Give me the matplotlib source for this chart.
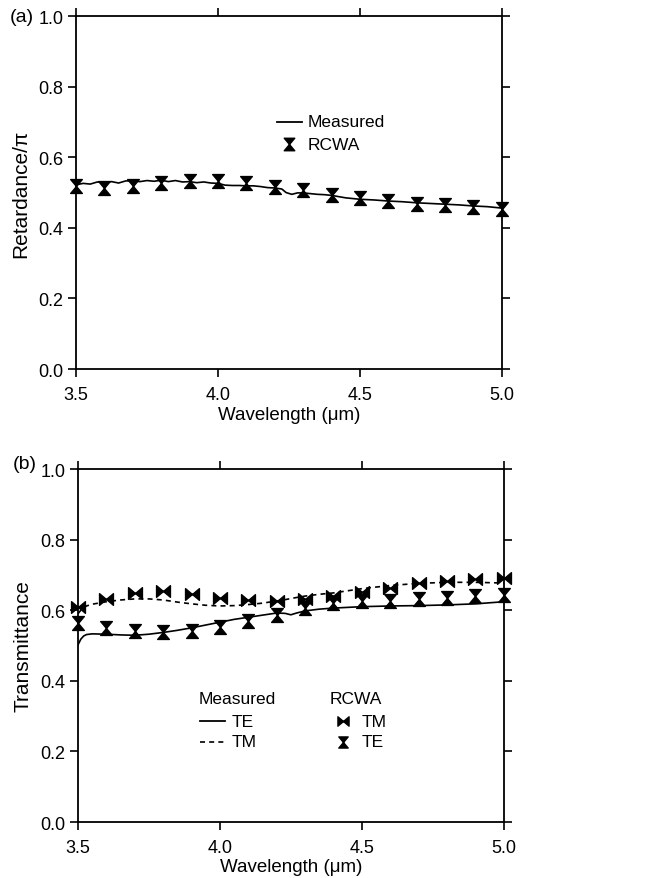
import numpy as np
import matplotlib
matplotlib.use('Agg')
from matplotlib import pyplot as plt
from matplotlib.path import Path

plt.rcParams['font.family'] = ['Liberation Sans', 'DejaVu Sans']

# ---- data, panel (a) ----
wl_meas_a = [3.500, 3.525, 3.550, 3.575, 3.600, 3.625, 3.650, 3.675, 3.700, 3.725,
             3.750, 3.775, 3.800, 3.825, 3.850, 3.875, 3.900, 3.925, 3.950, 3.975,
             4.000, 4.025, 4.050, 4.075, 4.100, 4.125, 4.150, 4.175, 4.200, 4.225,
             4.240, 4.260, 4.280, 4.300, 4.325, 4.350, 4.375, 4.400, 4.450, 4.500,
             4.550, 4.600, 4.650, 4.700, 4.750, 4.800, 4.850, 4.900, 4.950, 5.000]
ret_meas = [0.522, 0.526, 0.524, 0.530, 0.528, 0.531, 0.527, 0.533, 0.533, 0.531,
            0.534, 0.532, 0.535, 0.531, 0.534, 0.530, 0.531, 0.528, 0.530, 0.527,
            0.526, 0.521, 0.520, 0.520, 0.519, 0.519, 0.517, 0.514, 0.513, 0.510,
            0.500, 0.495, 0.499, 0.499, 0.497, 0.495, 0.494, 0.492, 0.485, 0.481,
            0.479, 0.476, 0.474, 0.471, 0.469, 0.467, 0.465, 0.462, 0.460, 0.456]

wl_rcwa = [3.5, 3.6, 3.7, 3.8, 3.9, 4.0, 4.1, 4.2, 4.3, 4.4, 4.5, 4.6, 4.7, 4.8, 4.9, 5.0]
ret_rcwa = [0.518, 0.512, 0.518, 0.527, 0.532, 0.532, 0.526, 0.517, 0.506, 0.493,
            0.485, 0.475, 0.468, 0.465, 0.459, 0.454]

# ---- data, panel (b) ----
wl_meas_b = [3.50, 3.51, 3.52, 3.53, 3.55, 3.60, 3.65, 3.70, 3.75, 3.80, 3.85, 3.90,
             3.95, 4.00, 4.05, 4.10, 4.15, 4.20, 4.23, 4.25, 4.27, 4.30, 4.35, 4.40,
             4.50, 4.60, 4.70, 4.80, 4.90, 5.00]
te_meas = [0.502, 0.518, 0.527, 0.531, 0.533, 0.532, 0.530, 0.529, 0.532, 0.537, 0.543, 0.550,
           0.558, 0.566, 0.574, 0.580, 0.586, 0.592, 0.591, 0.587, 0.592, 0.598, 0.603, 0.606,
           0.610, 0.612, 0.613, 0.615, 0.618, 0.624]
tm_meas = [0.590, 0.600, 0.607, 0.612, 0.617, 0.624, 0.629, 0.632, 0.632, 0.629, 0.623, 0.618,
           0.614, 0.612, 0.613, 0.616, 0.620, 0.626, 0.630, 0.633, 0.636, 0.640, 0.645, 0.649,
           0.661, 0.670, 0.676, 0.679, 0.679, 0.677]

tm_rcwa = [0.608, 0.633, 0.650, 0.653, 0.645, 0.634, 0.628, 0.625, 0.631, 0.641,
           0.652, 0.664, 0.676, 0.683, 0.688, 0.690]
te_rcwa = [0.565, 0.551, 0.542, 0.537, 0.540, 0.553, 0.570, 0.587, 0.606, 0.620,
           0.625, 0.627, 0.631, 0.634, 0.639, 0.643]

# hourglass / bowtie markers (two triangles tip to tip)
hg_verts = [(-0.42, 0.5), (0.42, 0.5), (0, 0), (-0.42, 0.5),
            (-0.42, -0.5), (0.42, -0.5), (0, 0), (-0.42, -0.5)]
codes = [Path.MOVETO, Path.LINETO, Path.LINETO, Path.CLOSEPOLY] * 2
hourglass = Path(hg_verts, codes)
bowtie = Path([(y, x) for x, y in hg_verts], codes)

DASH = (0, (3, 2.5))

fig = plt.figure(figsize=(6.5, 8.79), dpi=100)
ax1 = fig.add_axes([0.117, 0.579, 0.655, 0.4016])
ax2 = fig.add_axes([0.120, 0.0637, 0.655, 0.4016])


def style(ax, ylabel):
    ax.set_xlim(3.5, 5.0)
    ax.set_ylim(0.0, 1.0)
    ax.set_xticks([3.5, 4.0, 4.5, 5.0])
    ax.set_yticks([0.0, 0.2, 0.4, 0.6, 0.8, 1.0])
    ax.xaxis.set_major_formatter(matplotlib.ticker.FormatStrFormatter('%.1f'))
    ax.yaxis.set_major_formatter(matplotlib.ticker.FormatStrFormatter('%.1f'))
    ax.tick_params(direction='out', length=6, width=1.2, labelsize=13,
                   top=True, right=True, pad=3)
    ax.tick_params(axis='x', pad=6)
    for s in ax.spines.values():
        s.set_linewidth(1.3)
    ax.set_xlabel('Wavelength (\u03bcm)', fontsize=13.5, labelpad=2)
    ax.set_ylabel(ylabel, fontsize=15, labelpad=6)


# panel (a)
ax1.plot(wl_meas_a, ret_meas, color='black', lw=1.2)
ax1.plot(wl_rcwa, ret_rcwa, ls='none', marker=hourglass, ms=10,
         color='black', clip_on=False)
style(ax1, 'Retardance/\u03c0')
ax1.plot([0.472, 0.531], [0.70, 0.70], color='black', lw=1.3, transform=ax1.transAxes)
ax1.text(0.545, 0.70, 'Measured', fontsize=12.5, va='center', transform=ax1.transAxes)
ax1.plot([0.500], [0.637], marker=hourglass, ms=9, color='black', transform=ax1.transAxes)
ax1.text(0.545, 0.637, 'RCWA', fontsize=12.5, va='center', transform=ax1.transAxes)
fig.text(10 / 650, 1 - 17 / 879, '(a)', fontsize=14, va='center')

# panel (b)
ax2.plot(wl_meas_b, te_meas, color='black', lw=1.2)
ax2.plot(wl_meas_b, tm_meas, color='black', lw=1.2, ls=DASH)
ax2.plot(wl_rcwa, tm_rcwa, ls='none', marker=bowtie, ms=10,
         color='black', clip_on=False)
ax2.plot(wl_rcwa, te_rcwa, ls='none', marker=hourglass, ms=10,
         color='black', clip_on=False)
style(ax2, 'Transmittance')
ax2.text(0.284, 0.351, 'Measured', fontsize=12.5, va='center', transform=ax2.transAxes)
ax2.plot([0.286, 0.345], [0.286, 0.286], color='black', lw=1.3, transform=ax2.transAxes)
ax2.text(0.362, 0.286, 'TE', fontsize=12.5, va='center', transform=ax2.transAxes)
ax2.plot([0.286, 0.345], [0.227, 0.227], color='black', lw=1.2, ls=DASH,
         transform=ax2.transAxes)
ax2.text(0.362, 0.227, 'TM', fontsize=12.5, va='center', transform=ax2.transAxes)
ax2.text(0.592, 0.351, 'RCWA', fontsize=12.5, va='center', transform=ax2.transAxes)
ax2.plot([0.622], [0.286], marker=bowtie, ms=8, color='black', transform=ax2.transAxes)
ax2.text(0.667, 0.286, 'TM', fontsize=12.5, va='center', transform=ax2.transAxes)
ax2.plot([0.622], [0.227], marker=hourglass, ms=8, color='black', transform=ax2.transAxes)
ax2.text(0.667, 0.227, 'TE', fontsize=12.5, va='center', transform=ax2.transAxes)
fig.text(13 / 650, 1 - 465 / 879, '(b)', fontsize=14, va='center')

fig.savefig('out.png', dpi=100)
